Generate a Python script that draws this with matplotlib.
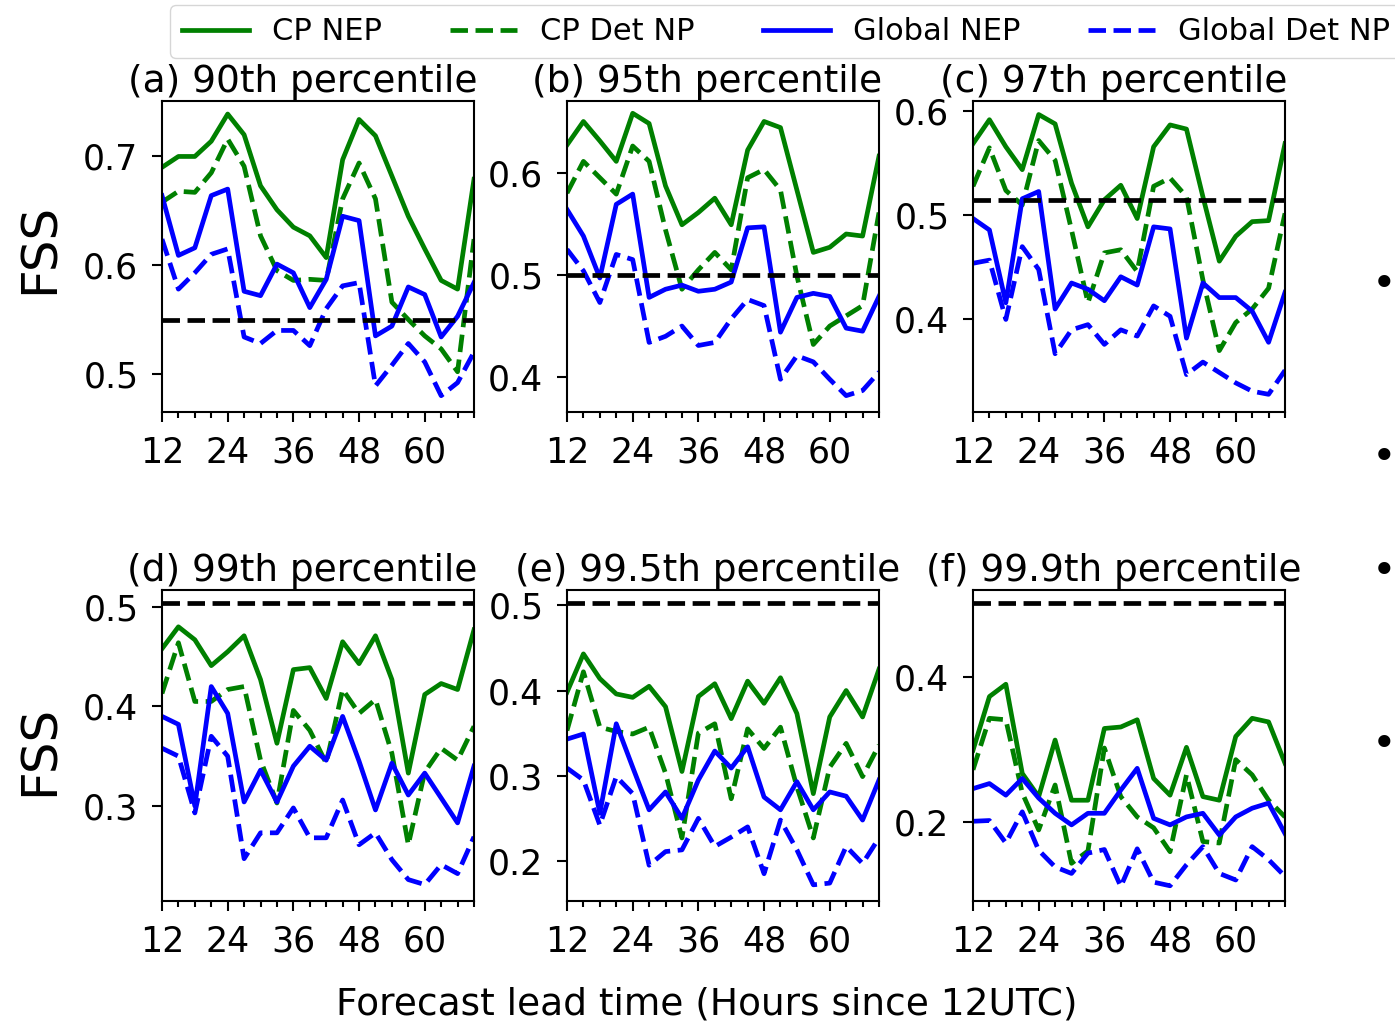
import matplotlib
matplotlib.use('Agg')
import matplotlib.pyplot as plt
from matplotlib.ticker import MultipleLocator, FixedLocator

# ---------------- data ----------------
lead_hours = [12, 15, 18, 21, 24, 27, 30, 33, 36, 39,
              42, 45, 48, 51, 54, 57, 60, 63, 66, 69]

panel_titles = ["(a) 90th percentile", "(b) 95th percentile", "(c) 97th percentile",
                "(d) 99th percentile", "(e) 99.5th percentile", "(f) 99.9th percentile"]

series_labels = ["CP NEP", "CP Det NP", "Global NEP", "Global Det NP"]

cp_nep = [
    [0.690, 0.700, 0.700, 0.714, 0.739, 0.720, 0.673, 0.651, 0.635, 0.627,
     0.607, 0.697, 0.734, 0.719, 0.682, 0.645, 0.615, 0.586, 0.578, 0.679],
    [0.627, 0.650, 0.631, 0.611, 0.658, 0.648, 0.587, 0.549, 0.561, 0.575,
     0.549, 0.622, 0.650, 0.644, 0.583, 0.522, 0.527, 0.540, 0.538, 0.616],
    [0.569, 0.592, 0.566, 0.544, 0.597, 0.588, 0.531, 0.489, 0.515, 0.529,
     0.497, 0.566, 0.587, 0.583, 0.518, 0.456, 0.480, 0.494, 0.495, 0.569],
    [0.458, 0.480, 0.467, 0.441, 0.455, 0.471, 0.427, 0.363, 0.437, 0.439,
     0.408, 0.465, 0.443, 0.471, 0.427, 0.333, 0.412, 0.423, 0.417, 0.477],
    [0.398, 0.443, 0.414, 0.396, 0.392, 0.405, 0.381, 0.305, 0.393, 0.408,
     0.367, 0.411, 0.385, 0.415, 0.373, 0.279, 0.369, 0.400, 0.369, 0.425],
    [0.299, 0.373, 0.390, 0.267, 0.235, 0.313, 0.230, 0.230, 0.329, 0.331,
     0.341, 0.260, 0.237, 0.303, 0.235, 0.230, 0.318, 0.343, 0.338, 0.281],
]

cp_det_np = [
    [0.658, 0.668, 0.667, 0.685, 0.716, 0.691, 0.627, 0.595, 0.586, 0.587,
     0.586, 0.661, 0.694, 0.661, 0.566, 0.550, 0.535, 0.523, 0.502, 0.624],
    [0.580, 0.611, 0.595, 0.579, 0.626, 0.611, 0.544, 0.486, 0.505, 0.522,
     0.505, 0.595, 0.603, 0.583, 0.499, 0.432, 0.450, 0.460, 0.470, 0.561],
    [0.528, 0.565, 0.524, 0.510, 0.572, 0.553, 0.486, 0.416, 0.464, 0.467,
     0.446, 0.528, 0.536, 0.518, 0.438, 0.370, 0.397, 0.410, 0.430, 0.502],
    [0.413, 0.464, 0.405, 0.405, 0.417, 0.420, 0.346, 0.303, 0.396, 0.376,
     0.343, 0.417, 0.393, 0.407, 0.353, 0.261, 0.334, 0.358, 0.346, 0.380],
    [0.353, 0.422, 0.357, 0.352, 0.349, 0.357, 0.303, 0.227, 0.350, 0.361,
     0.273, 0.355, 0.332, 0.357, 0.287, 0.227, 0.310, 0.338, 0.299, 0.336],
    [0.272, 0.343, 0.341, 0.240, 0.189, 0.251, 0.143, 0.160, 0.302, 0.235,
     0.207, 0.192, 0.159, 0.265, 0.173, 0.171, 0.286, 0.265, 0.230, 0.207],
]

global_nep = [
    [0.664, 0.609, 0.616, 0.664, 0.670, 0.576, 0.572, 0.601, 0.593, 0.561,
     0.587, 0.645, 0.641, 0.535, 0.544, 0.580, 0.573, 0.534, 0.553, 0.584],
    [0.564, 0.538, 0.497, 0.569, 0.579, 0.478, 0.486, 0.490, 0.484, 0.486,
     0.493, 0.546, 0.547, 0.444, 0.478, 0.482, 0.479, 0.448, 0.445, 0.479],
    [0.497, 0.486, 0.416, 0.516, 0.523, 0.410, 0.435, 0.429, 0.418, 0.441,
     0.433, 0.489, 0.487, 0.382, 0.435, 0.421, 0.421, 0.408, 0.378, 0.426],
    [0.390, 0.382, 0.300, 0.420, 0.393, 0.304, 0.336, 0.304, 0.340, 0.360,
     0.346, 0.390, 0.345, 0.296, 0.343, 0.311, 0.333, 0.308, 0.283, 0.340],
    [0.343, 0.349, 0.256, 0.361, 0.310, 0.260, 0.281, 0.250, 0.295, 0.329,
     0.309, 0.334, 0.275, 0.260, 0.293, 0.260, 0.281, 0.276, 0.248, 0.295],
    [0.246, 0.253, 0.237, 0.260, 0.233, 0.212, 0.196, 0.212, 0.212, 0.244,
     0.274, 0.205, 0.196, 0.207, 0.212, 0.182, 0.207, 0.219, 0.226, 0.184],
]

global_det_np = [
    [0.624, 0.578, 0.593, 0.610, 0.615, 0.534, 0.528, 0.540, 0.540, 0.526,
     0.560, 0.581, 0.584, 0.489, 0.508, 0.528, 0.511, 0.480, 0.492, 0.520],
    [0.525, 0.504, 0.473, 0.520, 0.515, 0.434, 0.440, 0.450, 0.431, 0.434,
     0.457, 0.476, 0.470, 0.398, 0.421, 0.415, 0.398, 0.382, 0.387, 0.405],
    [0.454, 0.457, 0.400, 0.470, 0.448, 0.367, 0.390, 0.395, 0.376, 0.390,
     0.384, 0.413, 0.403, 0.347, 0.359, 0.349, 0.339, 0.331, 0.328, 0.351],
    [0.358, 0.350, 0.293, 0.370, 0.350, 0.247, 0.273, 0.273, 0.298, 0.268,
     0.268, 0.306, 0.261, 0.273, 0.246, 0.226, 0.221, 0.241, 0.232, 0.269],
    [0.309, 0.295, 0.242, 0.299, 0.279, 0.195, 0.211, 0.213, 0.250, 0.217,
     0.228, 0.240, 0.185, 0.248, 0.213, 0.172, 0.174, 0.217, 0.197, 0.227],
    [0.201, 0.202, 0.171, 0.214, 0.161, 0.138, 0.129, 0.157, 0.162, 0.111,
     0.163, 0.117, 0.112, 0.141, 0.166, 0.129, 0.120, 0.166, 0.148, 0.125],
]

skill_threshold = [0.550, 0.500, 0.515, 0.504, 0.503, 0.502]

x_ticks = [12, 24, 36, 48, 60]
y_ticks = [[0.5, 0.6, 0.7], [0.4, 0.5, 0.6], [0.4, 0.5, 0.6],
           [0.3, 0.4, 0.5], [0.2, 0.3, 0.4, 0.5], [0.2, 0.4]]
y_limits = [(0.465, 0.751), (0.366, 0.670), (0.311, 0.610),
            (0.2045, 0.517), (0.153, 0.518), (0.091, 0.520)]

# ---------------- figure ----------------
W, H = 1395, 1026
fig = plt.figure(figsize=(W / 100, H / 100), dpi=100)
plt.rcParams['font.family'] = ['DejaVu Sans']

col_left = [162, 567, 973]
row_top = [101, 590]
ax_w, ax_h = 312, 311

lw = 3.4
axes = []
for i in range(6):
    r, c = divmod(i, 3)
    left = col_left[c] / W
    bottom = 1 - (row_top[r] + ax_h) / H
    ax = fig.add_axes([left, bottom, ax_w / W, ax_h / H])
    axes.append(ax)
    l1, = ax.plot(lead_hours, cp_nep[i], color='green', lw=lw, ls='-')
    l2, = ax.plot(lead_hours, cp_det_np[i], color='green', lw=lw, ls='--')
    l3, = ax.plot(lead_hours, global_nep[i], color='blue', lw=lw, ls='-')
    l4, = ax.plot(lead_hours, global_det_np[i], color='blue', lw=lw, ls='--')
    ax.axhline(skill_threshold[i], color='black', lw=lw, ls='--')
    if i == 0:
        handles = [l1, l2, l3, l4]
    ax.set_xlim(12, 69)
    ax.set_ylim(*y_limits[i])
    ax.xaxis.set_major_locator(FixedLocator(x_ticks))
    ax.xaxis.set_minor_locator(MultipleLocator(3))
    ax.yaxis.set_major_locator(FixedLocator(y_ticks[i]))
    ax.tick_params(which='major', length=7, width=1.5, labelsize=25, pad=10)
    ax.tick_params(which='minor', length=4, width=1.5)
    for s in ax.spines.values():
        s.set_linewidth(1.5)
    ax.text(0.45, 1.004, panel_titles[i], transform=ax.transAxes,
            ha='center', va='bottom', fontsize=27)

# y labels
for yc in [248, 750]:
    fig.text(40 / W, 1 - yc / H, 'FSS', rotation=90, fontsize=36,
             ha='center', va='center')

# x label
fig.text(707 / W, 1 - 1005 / H, 'Forecast lead time (Hours since 12UTC)',
         fontsize=27, ha='center', va='center')

# legend
fig.legend(handles, series_labels, loc='upper left',
           bbox_to_anchor=(170 / W, 1 - 5 / H), bbox_transform=fig.transFigure,
           ncol=4, fontsize=22, handlelength=2.2, handletextpad=0.75,
           columnspacing=2.22, borderaxespad=0.0, frameon=True)

# slide bullets at the right edge
for yb in [285, 458, 572, 745]:
    fig.text(1384 / W, 1 - yb / H, '\u2022', fontsize=30, ha='center', va='center')

fig.savefig('out.png', dpi=100)
